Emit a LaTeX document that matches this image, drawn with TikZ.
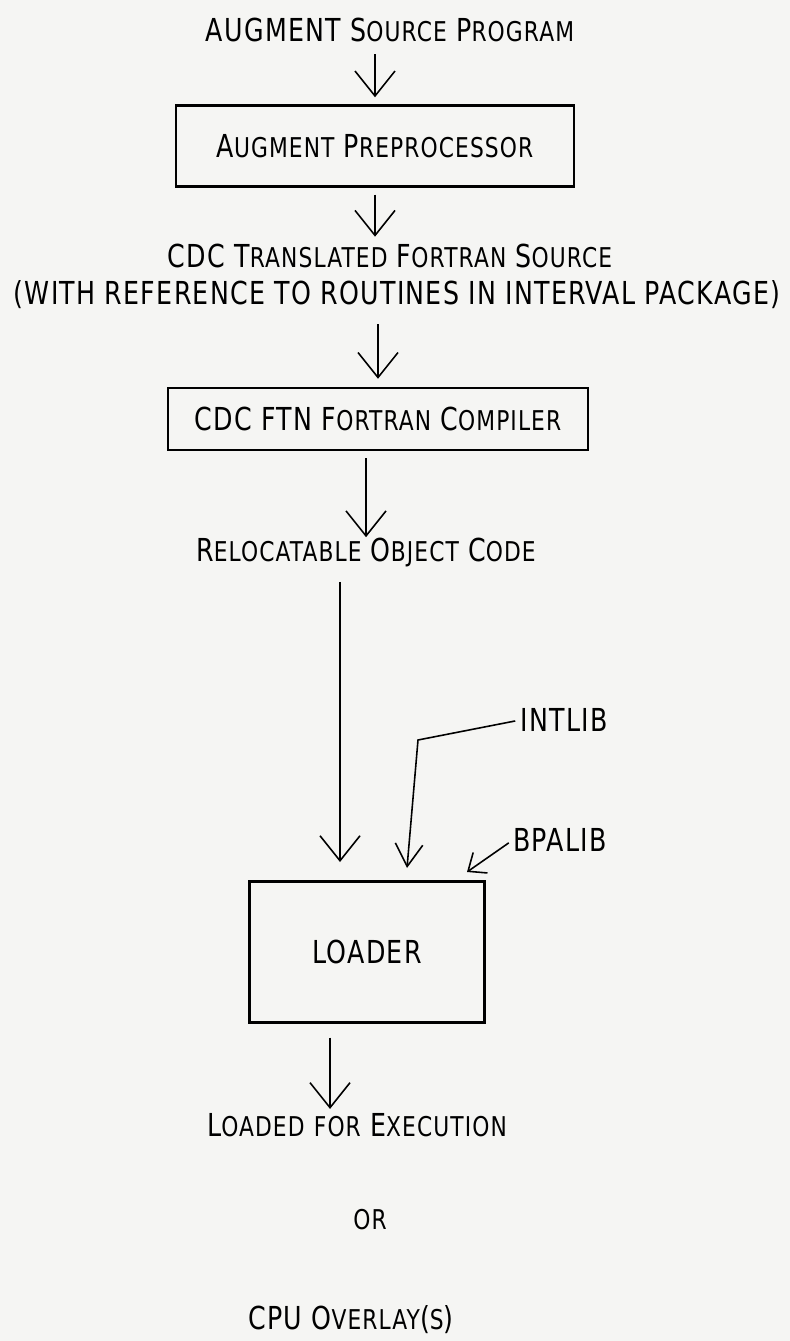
\documentclass[tikz,border=0pt]{standalone}
\usepackage{fontspec}
\setmainfont{DejaVu Sans}[FakeStretch=0.8, LetterSpace=4]
\usetikzlibrary{arrows.meta}
\definecolor{paper}{HTML}{F5F5F3}
% fake small caps, as on the typed original
\newcommand{\sm}[1]{{\fontsize{15.5pt}{16pt}\selectfont #1}}
\begin{document}
\begin{tikzpicture}[x=0.02cm, y=0.02cm,
    lbl/.style={inner sep=0pt, font=\fontsize{18pt}{20pt}\selectfont},
    box/.style={lbl, draw, line width=1.4pt},
    flow/.style={line width=0.9pt, -{Straight Barb[length=5mm, width=8mm, line width=0.9pt]}},
    libflow/.style={line width=0.9pt, -{Straight Barb[length=4.5mm, width=5.5mm, line width=0.9pt]}},
    tinyflow/.style={line width=0.9pt, -{Straight Barb[length=3mm, width=5mm, line width=0.9pt]}}]
    \fill[paper] (0,0) rectangle (790,-1341);
    \useasboundingbox (0,0) rectangle (790,-1341);
    % text and boxes
    \node[lbl] (src) at (390,-30) {AUGMENT S\sm{OURCE} P\sm{ROGRAM}};
    \node[box, minimum width=7.96cm, minimum height=1.62cm] (pre) at (375,-146) {A\sm{UGMENT} P\sm{REPROCESSOR}};
    \node[lbl] (trans) at (390,-256) {CDC T\sm{RANSLATED} F\sm{ORTRAN} S\sm{OURCE}};
    \node[lbl] (with) at (397,-295) {(WITH REFERENCE TO ROUTINES IN INTERVAL PACKAGE)};
    \node[box, minimum width=8.4cm, minimum height=1.24cm] (ftn) at (378,-419) {CDC FTN F\sm{ORTRAN} C\sm{OMPILER}};
    \node[lbl] (reloc) at (366,-552) {R\sm{ELOCATABLE} O\sm{BJECT} C\sm{ODE}};
    \node[lbl] (intlib) at (564,-720) {INTLIB};
    \node[lbl] (bpalib) at (560,-840) {BPALIB};
    \node[box, minimum width=4.7cm, minimum height=2.82cm] (loader) at (367,-952) {LOADER};
    \node[lbl] (exec) at (357,-1125) {L\sm{OADED} \sm{FOR} E\sm{XECUTION}};
    \node[lbl] (or) at (370,-1220) {\sm{OR}};
    \node[lbl] (cpu) at (351,-1320) {CPU O\sm{VERLAY}(\sm{S})};
    % arrow ends over the loader
    \coordinate (tipA) at (340,-862);
    \coordinate (bend) at (418,-740);
    \coordinate (tipB) at (407,-868);
    \coordinate (tipC) at (467,-872);
    \coordinate (outx) at (330,-1030);
    % arrows
    \draw[flow, shorten <=0.24cm, shorten >=0.14cm] (src.south -| pre.north) -- (pre.north);
    \draw[flow, shorten <=0.14cm, shorten >=0.14cm] (pre.south) -- (pre.south |- trans.north);
    \draw[flow, shorten <=0.3cm, shorten >=0.16cm] (with.south -| ftn.north) -- (ftn.north);
    \draw[flow, shorten <=0.14cm] (ftn.south -| reloc.north) -- (reloc.north);
    \draw[flow, shorten <=0.3cm] (reloc.south -| tipA) -- (tipA);
    \draw[libflow, shorten <=0.1cm] (intlib.west) -- (bend) -- (tipB);
    \draw[tinyflow, shorten <=0.1cm] (bpalib.west) -- (tipC);
    \draw[flow, shorten <=0.28cm, shorten >=0.08cm] (loader.south -| outx) -- (outx |- exec.north);
\end{tikzpicture}
\end{document}
